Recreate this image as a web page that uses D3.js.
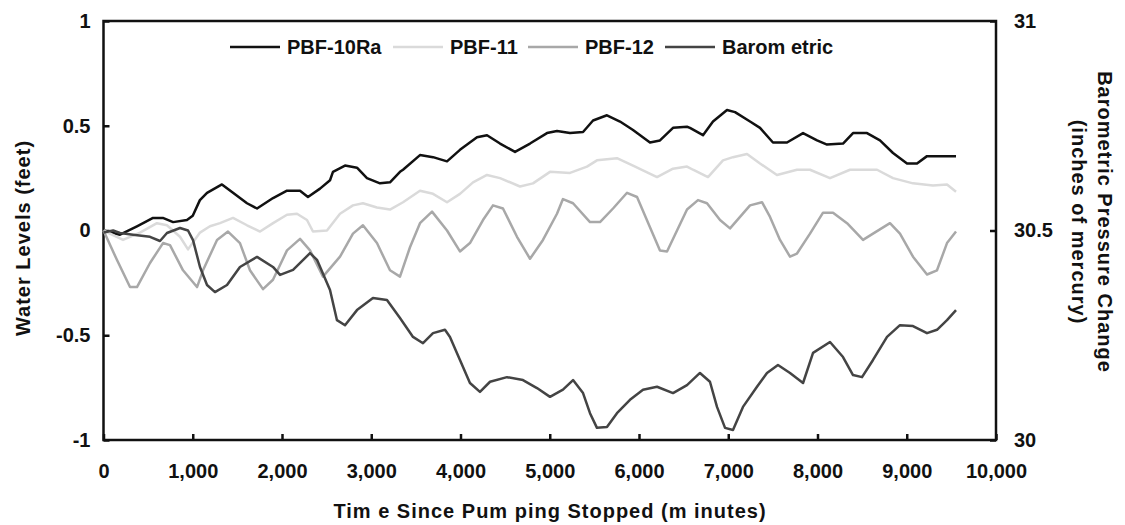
<!DOCTYPE html>
<html>
<head>
<meta charset="UTF-8">
<title>Water Levels and Barometric Pressure</title>
<script src="https://d3js.org/d3.v7.min.js"></script>
<style>
  body { margin: 0; background: #fff; }
  svg { display: block; background: #fff; }
  text { font-family: "Liberation Sans", Arial, sans-serif; font-weight: bold; font-size: 20px; fill: #111; }
  .title { letter-spacing: 1px; }
  .axis line { stroke: #111; stroke-width: 2.5; }
  .axis .domain { display: none; }
  .frame { fill: none; stroke: #111; stroke-width: 2.5; }
  .series { fill: none; stroke-width: 2.5; stroke-linejoin: round; }
</style>
</head>
<body>
<svg width="1125" height="525"></svg>
<script>
// minutes since pumping stopped, water level change (feet)
const pbf10Ra = [[0,0.0],[185,-0.02],[375,0.02],[555,0.06],[665,0.06],[780,0.04],[935,0.05],[1000,0.07],
  [1080,0.145],[1160,0.18],[1327,0.22],[1451,0.18],[1608,0.13],[1720,0.105],[1900,0.155],[2056,0.19],
  [2202,0.19],[2291,0.16],[2426,0.2],[2538,0.24],[2571,0.28],[2706,0.31],[2840,0.3],[2952,0.25],
  [3098,0.225],[3210,0.23],[3322,0.28],[3356,0.29],[3546,0.36],[3692,0.35],[3849,0.33],[3994,0.385],
  [4185,0.445],[4297,0.455],[4443,0.415],[4611,0.375],[4779,0.415],[4969,0.465],[5081,0.475],[5227,0.465],
  [5373,0.47],[5485,0.525],[5641,0.55],[5787,0.52],[5933,0.48],[6123,0.42],[6235,0.43],[6381,0.49],
  [6538,0.495],[6571,0.49],[6717,0.455],[6829,0.52],[6986,0.575],[7076,0.565],[7244,0.52],[7356,0.49],
  [7501,0.42],[7658,0.42],[7838,0.465],[7995,0.43],[8107,0.41],[8286,0.415],[8398,0.465],[8555,0.465],
  [8700,0.43],[8846,0.37],[9003,0.32],[9115,0.32],[9227,0.355],[9552,0.355]];

const pbf11 = [[0,0.0],[219,-0.045],[409,-0.01],[599,0.035],[711,0.025],[857,-0.03],[947,-0.09],[1081,-0.01],
  [1193,0.02],[1305,0.035],[1451,0.06],[1608,0.025],[1754,-0.005],[1900,0.035],[2056,0.075],[2168,0.08],
  [2280,0.05],[2347,-0.005],[2504,0.0],[2650,0.08],[2795,0.12],[2907,0.13],[3064,0.11],[3210,0.1],
  [3356,0.135],[3546,0.19],[3692,0.175],[3849,0.135],[3994,0.175],[4140,0.23],[4297,0.265],[4443,0.25],
  [4667,0.21],[4812,0.225],[5003,0.28],[5227,0.275],[5417,0.305],[5529,0.335],[5753,0.345],[5933,0.31],
  [6202,0.255],[6381,0.295],[6538,0.305],[6605,0.29],[6773,0.255],[6941,0.335],[7053,0.35],[7210,0.365],
  [7356,0.32],[7546,0.265],[7770,0.29],[7916,0.29],[8140,0.25],[8364,0.29],[8667,0.29],[8846,0.25],
  [9070,0.225],[9294,0.215],[9451,0.22],[9552,0.185]];

const pbf12 = [[0,0.0],[150,-0.14],[297,-0.27],[375,-0.27],[521,-0.155],[667,-0.06],[745,-0.07],[891,-0.19],
  [1048,-0.27],[1115,-0.19],[1272,-0.045],[1395,-0.005],[1529,-0.06],[1641,-0.19],[1787,-0.28],[1899,-0.235],
  [2056,-0.095],[2202,-0.04],[2314,-0.095],[2459,-0.22],[2650,-0.125],[2795,-0.015],[2907,0.025],[3064,-0.06],
  [3210,-0.19],[3322,-0.22],[3434,-0.08],[3546,0.035],[3681,0.09],[3849,0.0],[3994,-0.1],[4106,-0.06],
  [4252,0.05],[4364,0.12],[4476,0.105],[4633,-0.03],[4779,-0.135],[4924,-0.045],[5081,0.08],[5148,0.15],
  [5261,0.13],[5451,0.04],[5563,0.04],[5709,0.105],[5866,0.18],[5978,0.16],[6123,0.015],[6235,-0.095],
  [6314,-0.1],[6538,0.1],[6661,0.145],[6762,0.13],[6908,0.05],[7020,0.01],[7132,0.065],[7244,0.12],
  [7378,0.135],[7468,0.065],[7580,-0.045],[7692,-0.125],[7770,-0.11],[7916,-0.015],[8062,0.085],[8174,0.085],
  [8331,0.035],[8510,-0.045],[8622,-0.015],[8812,0.035],[8924,-0.015],[9070,-0.125],[9227,-0.21],[9339,-0.19],
  [9451,-0.06],[9552,-0.005]];

// barometric pressure (inches of mercury), right axis
const barometric = [[0,30.495],[108,30.5],[185,30.494],[331,30.49],[521,30.485],[633,30.475],[711,30.494],
  [857,30.506],[947,30.5],[1003,30.477],[1081,30.413],[1160,30.37],[1249,30.353],[1384,30.37],[1529,30.413],
  [1720,30.437],[1899,30.413],[1978,30.394],[2124,30.406],[2314,30.446],[2392,30.43],[2538,30.358],[2616,30.286],
  [2706,30.274],[2840,30.31],[3019,30.339],[3176,30.334],[3322,30.291],[3468,30.246],[3580,30.231],[3692,30.255],
  [3826,30.263],[3882,30.246],[3994,30.191],[4106,30.136],[4218,30.115],[4331,30.139],[4521,30.15],[4700,30.143],
  [4857,30.124],[5003,30.103],[5148,30.12],[5261,30.143],[5373,30.112],[5451,30.064],[5529,30.029],[5641,30.031],
  [5753,30.064],[5899,30.096],[6045,30.12],[6202,30.127],[6381,30.112],[6538,30.131],[6683,30.16],[6795,30.139],
  [6874,30.079],[6964,30.029],[7053,30.024],[7165,30.079],[7322,30.127],[7434,30.16],[7557,30.179],[7692,30.16],
  [7838,30.136],[7950,30.208],[8140,30.234],[8286,30.198],[8398,30.155],[8499,30.15],[8622,30.191],[8779,30.246],
  [8924,30.274],[9070,30.272],[9227,30.255],[9339,30.263],[9451,30.286],[9552,30.31]];

const xTicks = [0,1000,2000,3000,4000,5000,6000,7000,8000,9000,10000];
const leftTicks = [-1,-0.5,0,0.5,1];
const rightTicks = [30,30.5,31];
const seriesNames = ["PBF-10Ra","PBF-11","PBF-12","Barom etric"];
const seriesColors = ["#111111","#dadada","#a8a8a8","#444444"];

const svg = d3.select("svg");
const plotL = 103.5, plotR = 996, plotT = 21, plotB = 440;

const x = d3.scaleLinear().domain([0,10000]).range([plotL,plotR]);
const yL = d3.scaleLinear().domain([-1,1]).range([plotB,plotT]);
const yR = d3.scaleLinear().domain([30,31]).range([plotB,plotT]);

// axes, ticks pointing inward; plain hyphen for negatives like the original
svg.append("g").attr("class","axis").attr("transform","translate(0,"+plotB+")")
  .call(d3.axisBottom(x).tickValues(xTicks).tickSizeInner(-6).tickSizeOuter(0).tickPadding(24)
    .tickFormat(d3.format(",")));
svg.append("g").attr("class","axis").attr("transform","translate("+plotL+",0)")
  .call(d3.axisLeft(yL).tickValues(leftTicks).tickSizeInner(-6).tickSizeOuter(0).tickPadding(13)
    .tickFormat(d => String(d)));
svg.append("g").attr("class","axis").attr("transform","translate("+plotR+",0)")
  .call(d3.axisRight(yR).tickValues(rightTicks).tickSizeInner(-6).tickSizeOuter(0).tickPadding(18)
    .tickFormat(d => String(d)));

svg.selectAll(".axis text").attr("fill","#111");

// plot frame
svg.append("rect").attr("class","frame")
  .attr("x",plotL).attr("y",plotT).attr("width",plotR-plotL).attr("height",plotB-plotT);

// lines
const lineL = d3.line().x(d => x(d[0])).y(d => yL(d[1]));
const lineR = d3.line().x(d => x(d[0])).y(d => yR(d[1]));

const plotted = [
  {data: pbf10Ra, line: lineL},
  {data: pbf11, line: lineL},
  {data: pbf12, line: lineL},
  {data: barometric, line: lineR}
];
svg.selectAll("path.series").data(plotted).enter().append("path")
  .attr("class","series")
  .attr("stroke",(d,i) => seriesColors[i])
  .attr("d",d => d.line(d.data));

// legend
const legendX = [230, 393, 528, 665];
const lg = svg.append("g").selectAll("g").data(seriesNames).enter().append("g")
  .attr("transform",(d,i) => "translate("+legendX[i]+",47)");
lg.append("line").attr("x1",0).attr("x2",50).attr("y1",0).attr("y2",0)
  .attr("stroke",(d,i) => seriesColors[i]).attr("stroke-width",2.5);
lg.append("text").attr("x",57).attr("y",7).text(d => d);

// axis titles
svg.append("text").attr("class","title").attr("transform","translate(30,238) rotate(-90)")
  .attr("text-anchor","middle").text("Water Levels (feet)");
svg.append("text").attr("class","title").attr("x",550).attr("y",518).attr("text-anchor","middle")
  .text("Tim e Since Pum ping Stopped (m inutes)");
const rt = svg.append("text").attr("class","title").attr("transform","translate(1098,222) rotate(90)")
  .attr("text-anchor","middle");
rt.append("tspan").attr("x",0).attr("dy",0).text("Barometric Pressure Change");
rt.append("tspan").attr("x",0).attr("dy",26).text("(inches of mercury)");
</script>
</body>
</html>
